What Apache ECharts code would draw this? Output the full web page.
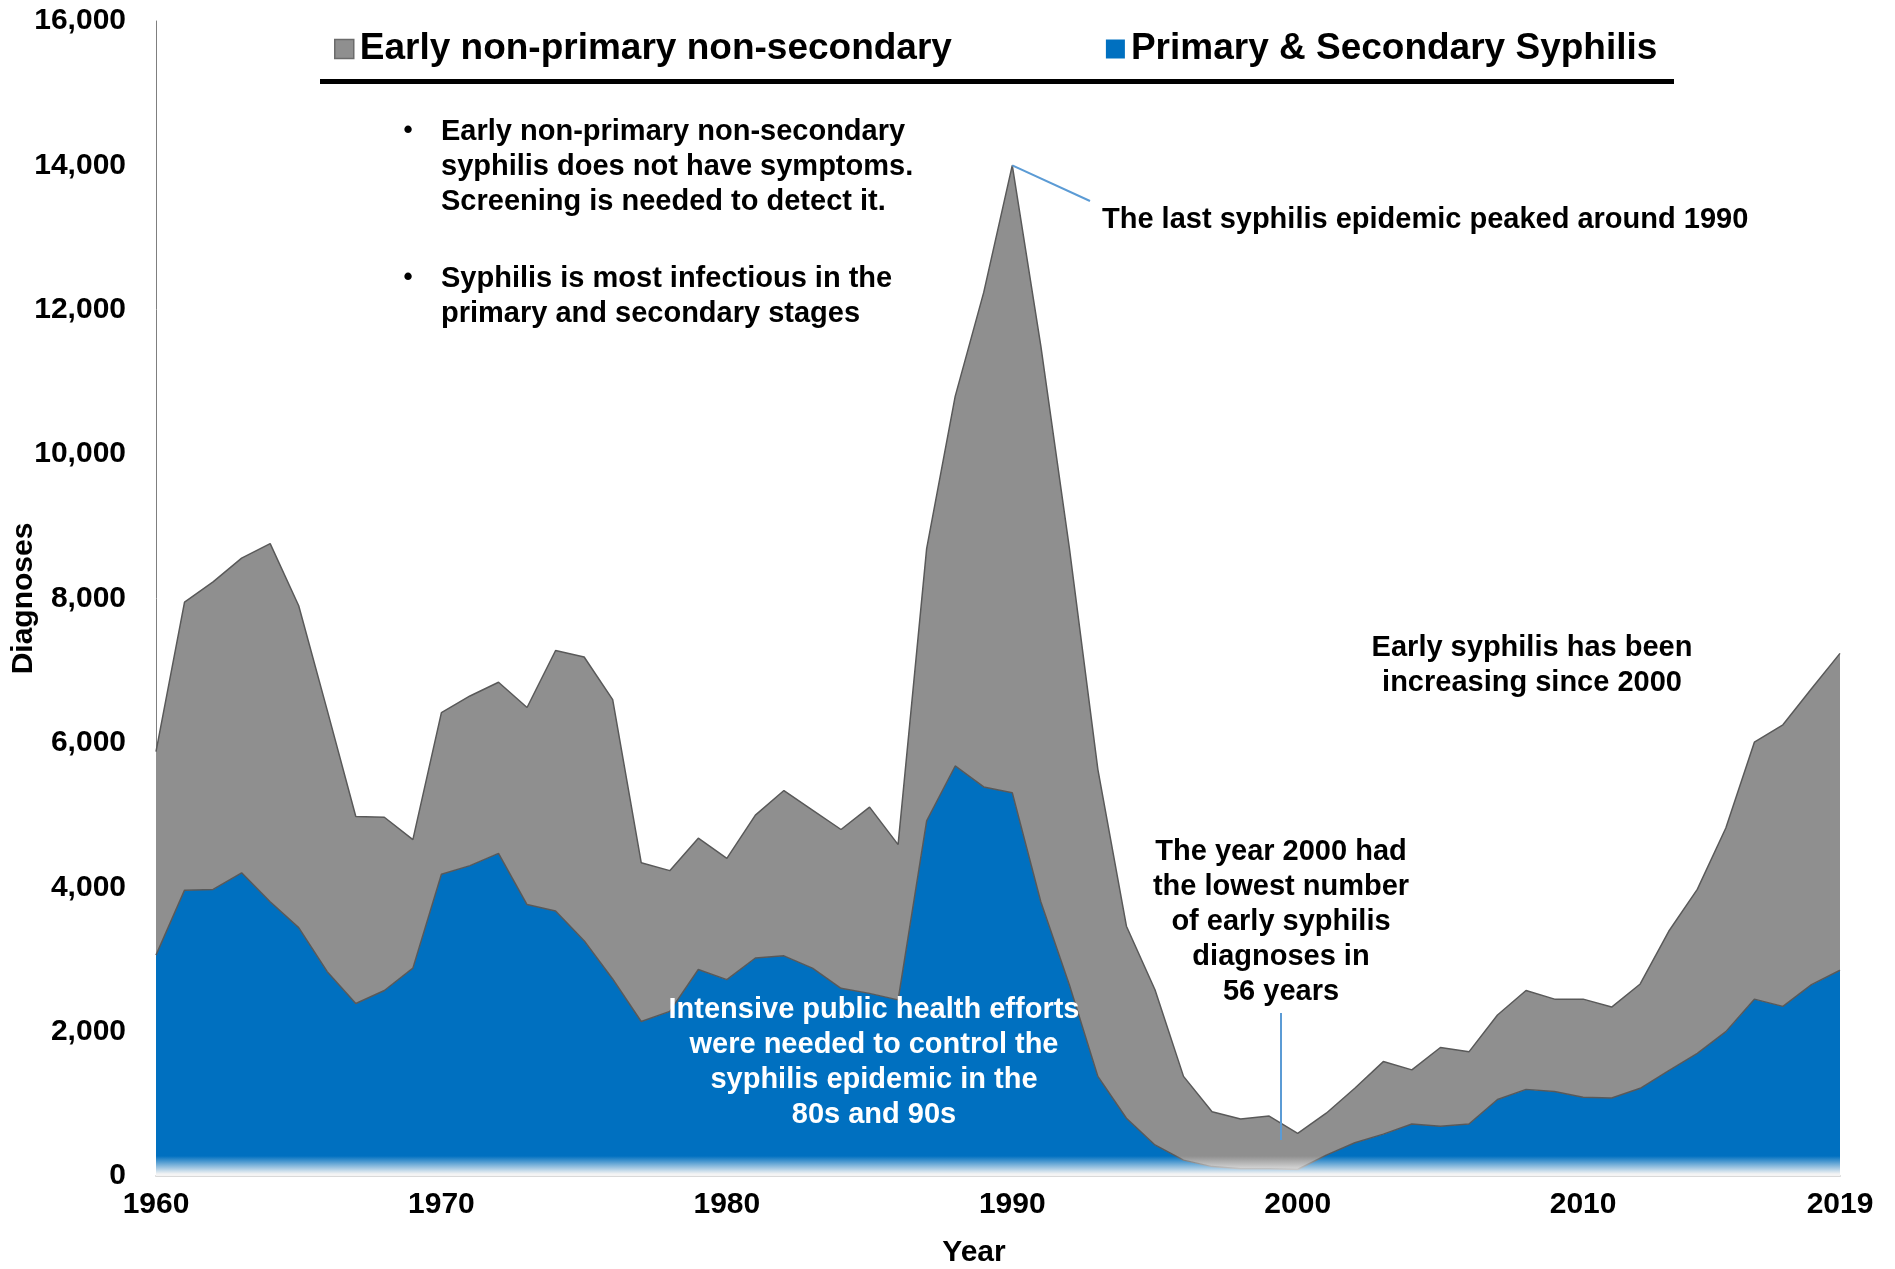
<!DOCTYPE html>
<html><head><meta charset="utf-8">
<script src="https://cdn.jsdelivr.net/npm/echarts/dist/echarts.min.js"></script>
<style>html,body{margin:0;padding:0;background:#fff}#c{width:1895px;height:1269px}</style>
</head><body><div id="c"></div>
<script>
const years = ['1960','1961','1962','1963','1964','1965','1966','1967','1968','1969',
  '1970','1971','1972','1973','1974','1975','1976','1977','1978','1979',
  '1980','1981','1982','1983','1984','1985','1986','1987','1988','1989',
  '1990','1991','1992','1993','1994','1995','1996','1997','1998','1999',
  '2000','2001','2002','2003','2004','2005','2006','2007','2008','2009',
  '2010','2011','2012','2013','2014','2015','2016','2017','2018','2019'];
const psSyphilis = [3060,3960,3970,4200,3800,3440,2830,2390,2570,2880,
  4180,4300,4470,3760,3670,3260,2730,2140,2280,2860,
  2720,3020,3050,2880,2600,2530,2440,4920,5680,5390,
  5310,3800,2650,1380,800,430,220,130,100,100,
  90,290,460,580,720,690,720,1060,1200,1170,
  1090,1080,1215,1460,1700,2000,2450,2350,2650,2850];
const earlyNonPS = [2820,3990,4260,4360,4960,4460,3620,2590,2400,1780,
  2240,2350,2370,2730,3610,3930,3870,2200,1950,1820,
  1680,1980,2290,2190,2200,2580,2150,3770,5120,6850,
  8690,7700,6050,4250,2660,2150,1160,760,690,730,
  500,580,755,1005,750,1090,1000,1170,1370,1280,
  1360,1260,1445,1930,2270,2820,3560,3900,4100,4390];
const xTickLabels = ['1960','1970','1980','1990','2000','2010','2019'];
const seriesNames = ['Early non-primary non-secondary', 'Primary & Secondary Syphilis'];
const peakYear = '1990';

const FONT = '"Liberation Sans", Arial, sans-serif';
function fade(color, end) {
  return {type: 'linear', x: 0, y: 1156, x2: 0, y2: 1174, global: true,
    colorStops: [{offset: 0, color: color}, {offset: 1, color: end}]};
}
const chart = echarts.init(document.getElementById('c'), null, {renderer: 'canvas'});

function annText(x, y, text, align, color) {
  return {type: 'text', x: x, y: y, z: 100, silent: true,
    style: {text: text, fill: color || '#000', font: 'bold 29px ' + FONT,
      lineHeight: 35, align: align || 'left', verticalAlign: 'top'}};
}

const baseGraphic = [
  {type: 'rect', shape: {x: 320, y: 79, width: 1354, height: 5}, style: {fill: '#000'}, z: 100},
  {type: 'text', x: 408, y: 131, z: 100, style: {text: '•', fill: '#000', font: 'bold 26px ' + FONT, align: 'center', verticalAlign: 'middle'}},
  annText(441, 114, 'Early non-primary non-secondary\nsyphilis does not have symptoms.\nScreening is needed to detect it.'),
  {type: 'text', x: 408, y: 278, z: 100, style: {text: '•', fill: '#000', font: 'bold 26px ' + FONT, align: 'center', verticalAlign: 'middle'}},
  annText(441, 261, 'Syphilis is most infectious in the\nprimary and secondary stages'),
  annText(1102, 202, 'The last syphilis epidemic peaked around 1990'),
  annText(1281, 834, 'The year 2000 had\nthe lowest number\nof early syphilis\ndiagnoses in\n56 years', 'center'),
  {type: 'line', z: 100, shape: {x1: 1281, y1: 1013, x2: 1281, y2: 1140}, style: {stroke: '#5b9bd5', lineWidth: 2}},
  annText(1532, 630, 'Early syphilis has been\nincreasing since 2000', 'center'),
  annText(874, 992, 'Intensive public health efforts\nwere needed to control the\nsyphilis epidemic in the\n80s and 90s', 'center', '#fff')
];

const option = {
  animation: false,
  backgroundColor: '#fff',
  grid: {left: 156, right: 55, top: 21, bottom: 93, containLabel: false, outerBoundsMode: 'none'},
  legend: {
    left: 329, top: 25, itemWidth: 19, itemHeight: 19, itemGap: 154, selectedMode: false,
    textStyle: {fontFamily: FONT, fontWeight: 'bold', fontSize: 37, color: '#000', lineHeight: 38, padding: [0, 0, 0, 1]},
    data: [
      {name: seriesNames[0], icon: 'rect', itemStyle: {color: '#8f8f8f', borderColor: '#6b6b6b', borderWidth: 1.5}},
      {name: seriesNames[1], icon: 'rect', itemStyle: {color: '#0070c0', borderWidth: 0}}
    ]
  },
  xAxis: {
    type: 'category', data: years, boundaryGap: false,
    name: 'Year', nameLocation: 'middle', nameGap: 62,
    nameTextStyle: {fontFamily: FONT, fontWeight: 'bold', fontSize: 30, color: '#000', padding: [0, 48, 0, 0]},
    axisLine: {show: true, lineStyle: {color: '#d9d9d9', width: 2}},
    axisTick: {show: false},
    axisLabel: {
      interval: function (i, v) { return xTickLabels.indexOf(v) >= 0; },
      fontFamily: FONT, fontWeight: 'bold', fontSize: 30, color: '#000', margin: 14
    },
    splitLine: {show: false}
  },
  yAxis: {
    type: 'value', min: 0, max: 16000, interval: 2000,
    name: 'Diagnoses', nameLocation: 'middle', nameGap: 117, nameRotate: 90, nameMoveOverlap: false,
    nameTextStyle: {fontFamily: FONT, fontWeight: 'bold', fontSize: 30, color: '#000'},
    axisLine: {show: true, lineStyle: {color: '#7f7f7f', width: 1}},
    axisTick: {show: false},
    axisLabel: {
      formatter: function (v) { return v.toLocaleString('en-US'); },
      fontFamily: FONT, fontWeight: 'bold', fontSize: 30, color: '#000', margin: 30
    },
    splitLine: {show: false}
  },
  series: [
    {
      name: seriesNames[1], type: 'line', stack: 'total', data: psSyphilis,
      symbol: 'none', z: 2,
      itemStyle: {color: '#0070c0'},
      lineStyle: {color: fade('#595959', '#eeeeee'), width: 1.5},
      areaStyle: {color: fade('#0070c0', '#f4f4f4'), opacity: 1}
    },
    {
      name: seriesNames[0], type: 'line', stack: 'total', data: earlyNonPS,
      symbol: 'none', z: 2,
      itemStyle: {color: '#8f8f8f'},
      lineStyle: {color: fade('#595959', '#eeeeee'), width: 1.5},
      areaStyle: {color: fade('#8f8f8f', '#f4f4f4'), opacity: 1}
    }
  ],
  graphic: baseGraphic
};
chart.setOption(option);

const peakIdx = years.indexOf(peakYear);
const peakPx = chart.convertToPixel({gridIndex: 0}, [peakYear, psSyphilis[peakIdx] + earlyNonPS[peakIdx]]);
chart.setOption({
  graphic: baseGraphic.concat([
    {type: 'line', z: 100, shape: {x1: peakPx[0], y1: peakPx[1], x2: 1090, y2: 201}, style: {stroke: '#5b9bd5', lineWidth: 2}}
  ])
});
</script>
</body></html>
